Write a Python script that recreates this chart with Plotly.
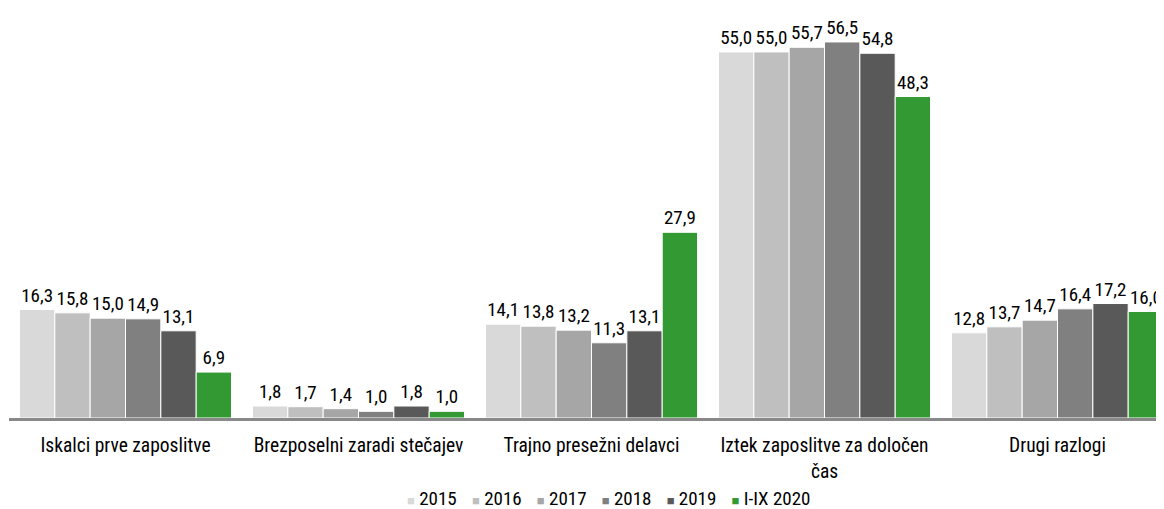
import plotly.graph_objects as go

categories = ["Iskalci prve zaposlitve", "Brezposelni zaradi stečajev", "Trajno presežni delavci",
              "Iztek zaposlitve za določen<br>čas", "Drugi razlogi"]
series_names = ["2015", "2016", "2017", "2018", "2019", "I-IX 2020"]
v2015 = [16.3, 1.8, 14.1, 55.0, 12.8]
v2016 = [15.8, 1.7, 13.8, 55.0, 13.7]
v2017 = [15.0, 1.4, 13.2, 55.7, 14.7]
v2018 = [14.9, 1.0, 11.3, 56.5, 16.4]
v2019 = [13.1, 1.8, 13.1, 54.8, 17.2]
v2020 = [6.9, 1.0, 27.9, 48.3, 16.0]
colors = ["#d9d9d9", "#bfbfbf", "#a6a6a6", "#808080", "#595959", "#339933"]

FONT = "Liberation Sans Narrow, Arial Narrow, Roboto Condensed, Roboto, sans-serif"

fig = go.Figure()
for name, vals, col in zip(series_names, [v2015, v2016, v2017, v2018, v2019, v2020], colors):
    fig.add_trace(go.Bar(
        name=name, x=list(range(len(categories))), y=vals,
        marker=dict(color=col, line=dict(color="white", width=1)),
        text=[f"{v:.1f}".replace(".", ",") for v in vals],
        textposition="outside", cliponaxis=False,
        textfont=dict(size=19, color="black", family=FONT),
        showlegend=False,
    ))

# custom compact legend built from the series names and colours
legend_parts = [f'<span style="color:{c};font-size:13px">■</span> {n}' for n, c in zip(series_names, colors)]
legend_text = '<span style="font-size:22px">&nbsp;&nbsp;&nbsp;</span>'.join(legend_parts)
fig.add_annotation(text=legend_text, xref="paper", yref="paper", x=0.519, y=-0.194,
                   xanchor="center", yanchor="middle", showarrow=False,
                   font=dict(size=19, family=FONT, color="black"))

fig.update_layout(
    width=1156, height=501,
    barmode="group", bargap=0.09, bargroupgap=0,
    plot_bgcolor="white", paper_bgcolor="white",
    margin=dict(l=1, r=0, t=2, b=91, autoexpand=False),
    font=dict(family=FONT, size=18, color="black"),
    xaxis=dict(tickmode="array", tickvals=list(range(len(categories))), ticktext=categories,
               range=[-0.5, 4.457], showline=True, linecolor="#898989", linewidth=3,
               ticks="", showgrid=False, zeroline=False, tickfont=dict(size=19.5),
               automargin=False, ticklabelstandoff=8),
    yaxis=dict(range=[0, 61.3], visible=False, showgrid=False, zeroline=False, automargin=False),
)
fig.write_html("out.html")
